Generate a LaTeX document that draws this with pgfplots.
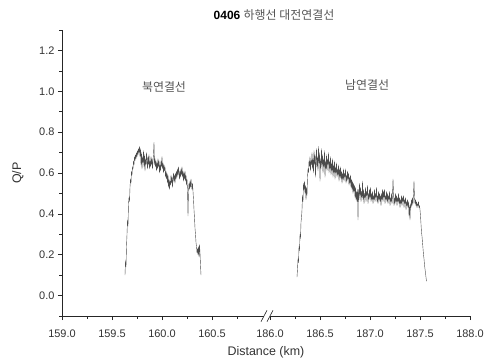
\documentclass[border=0pt]{standalone}
\usepackage{fontspec}
\setmainfont{Liberation Sans}
\newfontfamily\kr{Noto Sans CJK KR}
\usepackage{pgfplots}
\usepackage{pgfplotstable}
\pgfplotsset{compat=1.18}
\definecolor{txt}{HTML}{333333}
\definecolor{krgray}{HTML}{555555}

\pgfplotstableread{
x y
159.630 0.10
159.635 0.17
159.640 0.14
159.645 0.24
159.650 0.30
159.655 0.37
159.660 0.34
159.665 0.45
159.670 0.48
159.675 0.46
159.680 0.53
159.685 0.57
159.690 0.55
159.695 0.61
159.700 0.59
159.705 0.63
159.710 0.62
159.715 0.66
159.720 0.64
159.725 0.68
159.730 0.66
159.735 0.69
159.740 0.67
159.745 0.70
159.750 0.68
159.755 0.71
159.760 0.69
159.765 0.72
159.770 0.70
159.775 0.73
159.780 0.68
159.785 0.72
159.790 0.64
159.795 0.70
159.800 0.62
159.805 0.68
159.810 0.65
159.815 0.71
159.820 0.63
159.825 0.69
159.830 0.61
159.835 0.67
159.840 0.64
159.845 0.70
159.850 0.66
159.855 0.62
159.860 0.68
159.865 0.64
159.870 0.69
159.875 0.62
159.880 0.66
159.885 0.63
159.890 0.68
159.895 0.64
159.900 0.67
159.905 0.62
159.910 0.66
159.915 0.69
159.920 0.75
159.925 0.64
159.930 0.67
159.935 0.63
159.940 0.66
159.945 0.61
159.950 0.65
159.955 0.62
159.960 0.67
159.965 0.63
159.970 0.66
159.975 0.60
159.980 0.64
159.985 0.61
159.990 0.66
159.995 0.63
160.000 0.68
160.005 0.62
160.010 0.65
160.015 0.60
160.020 0.64
160.025 0.61
160.030 0.63
160.035 0.58
160.040 0.61
160.045 0.57
160.050 0.60
160.055 0.55
160.060 0.59
160.065 0.53
160.070 0.57
160.075 0.52
160.080 0.56
160.085 0.54
160.090 0.59
160.095 0.55
160.100 0.58
160.105 0.53
160.110 0.57
160.115 0.60
160.120 0.56
160.125 0.59
160.130 0.55
160.135 0.60
160.140 0.57
160.145 0.61
160.150 0.58
160.155 0.62
160.160 0.59
160.165 0.63
160.170 0.60
160.175 0.57
160.180 0.61
160.185 0.58
160.190 0.62
160.195 0.59
160.200 0.63
160.205 0.58
160.210 0.61
160.215 0.56
160.220 0.60
160.225 0.57
160.230 0.61
160.235 0.56
160.240 0.59
160.245 0.54
160.250 0.57
160.255 0.52
160.260 0.39
160.265 0.51
160.270 0.55
160.275 0.52
160.280 0.56
160.285 0.53
160.290 0.57
160.295 0.54
160.300 0.52
160.305 0.55
160.310 0.51
160.315 0.47
160.320 0.42
160.325 0.38
160.330 0.33
160.335 0.30
160.340 0.26
160.345 0.24
160.350 0.21
160.355 0.23
160.360 0.20
160.365 0.24
160.370 0.19
160.375 0.25
160.380 0.21
160.385 0.15
160.390 0.10
}\north

\pgfplotstableread{
x y
186.270 0.09
186.275 0.13
186.280 0.18
186.285 0.16
186.290 0.24
186.295 0.22
186.300 0.30
186.305 0.28
186.310 0.36
186.315 0.38
186.320 0.42
186.325 0.49
186.330 0.46
186.335 0.55
186.340 0.52
186.345 0.56
186.350 0.50
186.355 0.54
186.360 0.47
186.365 0.53
186.370 0.49
186.375 0.58
186.380 0.62
186.385 0.60
186.390 0.66
186.395 0.63
186.400 0.68
186.405 0.61
186.410 0.66
186.415 0.64
186.420 0.70
186.425 0.62
186.430 0.67
186.435 0.60
186.440 0.71
186.445 0.64
186.450 0.69
186.455 0.58
186.460 0.66
186.465 0.72
186.470 0.63
186.475 0.68
186.480 0.61
186.485 0.73
186.490 0.65
186.495 0.70
186.500 0.56
186.505 0.67
186.510 0.62
186.515 0.72
186.520 0.64
186.525 0.69
186.530 0.60
186.535 0.67
186.540 0.63
186.545 0.71
186.550 0.58
186.555 0.66
186.560 0.62
186.565 0.69
186.570 0.61
186.575 0.67
186.580 0.64
186.585 0.70
186.590 0.60
186.595 0.66
186.600 0.62
186.605 0.68
186.610 0.59
186.615 0.65
186.620 0.61
186.625 0.67
186.630 0.58
186.635 0.64
186.640 0.60
186.645 0.66
186.650 0.57
186.655 0.63
186.660 0.60
186.665 0.65
186.670 0.58
186.675 0.62
186.680 0.59
186.685 0.64
186.690 0.56
186.695 0.62
186.700 0.58
186.705 0.63
186.710 0.57
186.715 0.61
186.720 0.55
186.725 0.60
186.730 0.57
186.735 0.62
186.740 0.56
186.745 0.60
186.750 0.58
186.755 0.62
186.760 0.55
186.765 0.59
186.770 0.56
186.775 0.61
186.780 0.57
186.785 0.60
186.790 0.54
186.795 0.58
186.800 0.55
186.805 0.59
186.810 0.53
186.815 0.57
186.820 0.52
186.825 0.56
186.830 0.50
186.835 0.55
186.840 0.51
186.845 0.54
186.850 0.48
186.855 0.53
186.860 0.47
186.865 0.51
186.870 0.46
186.875 0.52
186.880 0.37
186.885 0.52
186.890 0.47
186.895 0.55
186.900 0.49
186.905 0.53
186.910 0.46
186.915 0.51
186.920 0.48
186.925 0.56
186.930 0.47
186.935 0.52
186.940 0.45
186.945 0.50
186.950 0.48
186.955 0.53
186.960 0.46
186.965 0.51
186.970 0.49
186.975 0.54
186.980 0.45
186.985 0.50
186.990 0.47
186.995 0.52
187.000 0.48
187.005 0.53
187.010 0.46
187.015 0.50
187.020 0.47
187.025 0.51
187.030 0.45
187.035 0.49
187.040 0.47
187.045 0.52
187.050 0.46
187.055 0.50
187.060 0.48
187.065 0.53
187.070 0.46
187.075 0.49
187.080 0.45
187.085 0.51
187.090 0.47
187.095 0.50
187.100 0.46
187.105 0.49
187.110 0.44
187.115 0.50
187.120 0.47
187.125 0.52
187.130 0.46
187.135 0.51
187.140 0.48
187.145 0.52
187.150 0.45
187.155 0.49
187.160 0.47
187.165 0.51
187.170 0.46
187.175 0.50
187.180 0.45
187.185 0.49
187.190 0.47
187.195 0.51
187.200 0.44
187.205 0.48
187.210 0.46
187.215 0.50
187.220 0.45
187.225 0.49
187.230 0.57
187.235 0.51
187.240 0.44
187.245 0.48
187.250 0.45
187.255 0.50
187.260 0.46
187.265 0.49
187.270 0.44
187.275 0.48
187.280 0.46
187.285 0.50
187.290 0.45
187.295 0.48
187.300 0.43
187.305 0.47
187.310 0.45
187.315 0.49
187.320 0.44
187.325 0.48
187.330 0.46
187.335 0.49
187.340 0.43
187.345 0.47
187.350 0.45
187.355 0.48
187.360 0.42
187.365 0.46
187.370 0.44
187.375 0.47
187.380 0.43
187.385 0.46
187.390 0.39
187.395 0.44
187.400 0.37
187.405 0.45
187.410 0.43
187.415 0.47
187.420 0.44
187.425 0.48
187.430 0.45
187.435 0.50
187.440 0.56
187.445 0.48
187.450 0.45
187.455 0.47
187.460 0.44
187.465 0.46
187.470 0.43
187.475 0.45
187.480 0.44
187.485 0.46
187.490 0.43
187.495 0.44
187.500 0.42
187.505 0.39
187.510 0.35
187.515 0.31
187.520 0.29
187.525 0.26
187.530 0.23
187.535 0.20
187.540 0.18
187.545 0.15
187.550 0.13
187.555 0.11
187.560 0.09
187.565 0.07
}\south

\begin{document}
\begin{tikzpicture}
\begin{axis}[
  scale only axis,
  width=408bp, height=286bp,
  xmin=159, xmax=163.08,
  ymin=-0.1, ymax=1.3,
  axis lines=left,
  axis line style={-, black!85, line width=0.6bp},
  tick align=outside,
  tick style={black!85, line width=0.6bp},
  major tick length=4bp,
  minor tick length=2.5bp,
  xtick={159,159.5,160,160.5,161.08,161.58,162.08,162.58,163.08},
  xticklabels={159.0,159.5,160.0,160.5,186.0,186.5,187.0,187.5,188.0},
  minor xtick={159.25,159.75,160.25,160.75,161.33,161.83,162.33,162.83},
  ytick={0,0.2,0.4,0.6,0.8,1.0,1.2},
  minor ytick={-0.1,0.1,0.3,0.5,0.7,0.9,1.1,1.3},
  yticklabel style={/pgf/number format/.cd, fixed, fixed zerofill, precision=1, assume math mode=true},
  ticklabel style={font=\fontsize{11}{13}\selectfont, text=txt},
  xticklabel style={yshift=-6bp},
  xlabel={Distance (km)},
  ylabel={Q/P},
  label style={font=\fontsize{12.5}{14}\selectfont, text=txt},
  xlabel style={yshift=-2bp},
  ylabel style={yshift=9bp},
  clip=false,
]
\addplot[black!70, line width=0.4bp, line join=round] table[x=x, y=y] {\north};
\addplot[black!70, line width=0.4bp, line join=round] table[x expr=\thisrow{x}-24.92, y=y] {\south};
% axis break
\fill[white] (axis cs:161.02,-0.113) rectangle (axis cs:161.08,-0.087);
\draw[black!85, line width=0.6bp] (axis cs:160.99,-0.128) -- (axis cs:161.05,-0.072);
\draw[black!85, line width=0.6bp] (axis cs:161.05,-0.128) -- (axis cs:161.11,-0.072);
\node[font=\kr\fontsize{12}{14}\selectfont, text=krgray] at (axis cs:160.02,1.02) {북연결선};
\node[font=\kr\fontsize{12}{14}\selectfont, text=krgray] at (axis cs:162.05,1.03) {남연결선};
\node[font=\fontsize{12}{14}\selectfont] at (axis cs:161.12,1.371) {\textbf{0406} {\kr\color{krgray}하행선 대전연결선}};
\end{axis}
\pgfresetboundingbox
\path[use as bounding box] ([shift={(-62bp,-47bp)}]current axis.south west) rectangle ([shift={(14bp,30bp)}]current axis.north east);
\end{tikzpicture}
\end{document}
